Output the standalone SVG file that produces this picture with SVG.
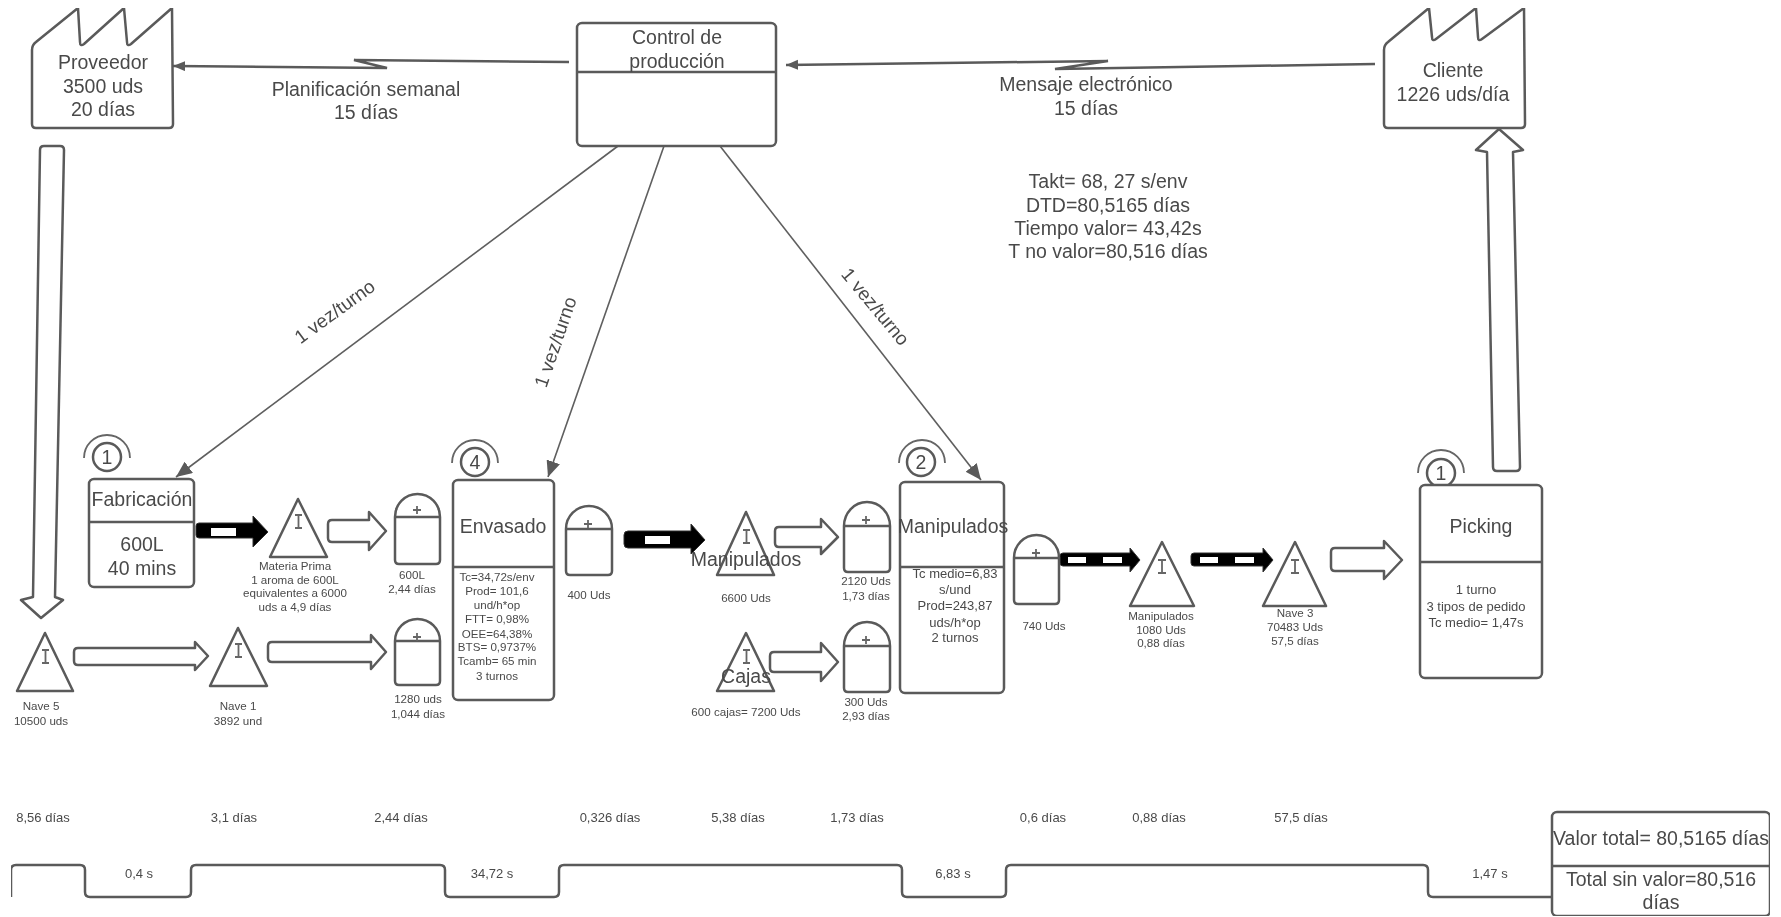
<svg xmlns="http://www.w3.org/2000/svg" width="1781" height="917" viewBox="0 0 1781 917">
<style>
text{font-family:"Liberation Sans",Arial,sans-serif;fill:#4a4a4a;text-anchor:middle}
.l{font-size:19.5px}.m{font-size:13px}.s{font-size:11.6px}.v{font-size:19px}
.o{fill:#fff;stroke:#5a5a5a;stroke-width:2.5;stroke-linejoin:round}
.n{fill:none;stroke:#5a5a5a;stroke-width:2.5}
.t{fill:none;stroke:#5e5e5e;stroke-width:1.6}
.i{fill:none;stroke:#666;stroke-width:1.8}
.p{fill:#000;stroke:#333;stroke-width:1;stroke-linejoin:round}
.w{fill:#fff}
</style>
<defs>
<marker id="ah" markerWidth="14" markerHeight="12" refX="12" refY="5" orient="auto" markerUnits="userSpaceOnUse"><path d="M0,0L12,5L0,10Z" fill="#5a5a5a"/></marker>
<marker id="ad" markerWidth="18" markerHeight="16" refX="16" refY="7" orient="auto" markerUnits="userSpaceOnUse"><path d="M0,0L16,7L0,14Z" fill="#5a5a5a"/></marker>
<filter id="soft" x="0" y="0" width="100%" height="100%"><feGaussianBlur stdDeviation="0.45"/></filter>
</defs>
<rect width="1781" height="917" fill="#fff"/>
<g filter="url(#soft)">
<g id="connectors">
<path class="n" marker-end="url(#ah)" d="M569,62L354,60L387,68L173,66"/>
<path class="n" marker-end="url(#ah)" d="M1375,64L1055,69L1108,61L786,65"/>
<path class="t" marker-end="url(#ad)" d="M618,146L176,477"/>
<path class="t" marker-end="url(#ad)" d="M664,146L548,477"/>
<path class="t" marker-end="url(#ad)" d="M720,146L981,480"/>
<path class="o" d="M40,150Q40,146 44,146L60,146Q64,146 64,150L55,597L63,600L41,618L21,600L33,597Z"/>
<path class="o" d="M1487,152L1476,150L1499,129L1523,150L1513,152L1520,467Q1520,471 1516,471L1497,471Q1493,471 1493,467Z"/>
<path class="o" d="M332,520L369,520L369,512L386,531L369,550L369,542L332,542Q328,542 328,538L328,524Q328,520 332,520Z"/>
<path class="o" d="M78,648L195,648L195,642L208,656L195,670L195,665L78,665Q74,665 74,661L74,652Q74,648 78,648Z"/>
<path class="o" d="M272,642L371,642L371,635L386,652L371,669L371,662L272,662Q268,662 268,658L268,646Q268,642 272,642Z"/>
<path class="o" d="M779,527L821,527L821,519L838,537L821,554L821,547L779,547Q775,547 775,543L775,531Q775,527 779,527Z"/>
<path class="o" d="M774,652L821,652L821,643L838,662L821,681L821,672L774,672Q770,672 770,668L770,656Q770,652 774,652Z"/>
<path class="o" d="M1335,548L1384,548L1384,541L1402,560L1384,579L1384,571L1335,571Q1331,571 1331,567L1331,552Q1331,548 1335,548Z"/>
<path class="p" d="M199,523L253,523L253,516L268,532L253,547L253,538L199,538Q196,538 196,535L196,526Q196,523 199,523Z"/>
<rect class="w" x="211" y="528" width="25" height="8"/>
<path class="p" d="M628,531L691,531L691,524L705,540L691,554L691,548L628,548Q624,548 624,544L624,535Q624,531 628,531Z"/>
<rect class="w" x="645" y="536" width="25" height="8"/>
<path class="p" d="M1063,553L1130,553L1130,548L1140,560L1130,572L1130,566L1063,566Q1060,566 1060,563L1060,556Q1060,553 1063,553Z"/>
<rect class="w" x="1068" y="557" width="18" height="6"/><rect class="w" x="1103" y="557" width="19" height="6"/>
<path class="p" d="M1194,553L1263,553L1263,548L1273,560L1263,572L1263,566L1194,566Q1191,566 1191,563L1191,556Q1191,553 1194,553Z"/>
<rect class="w" x="1200" y="557" width="18" height="6"/><rect class="w" x="1235" y="557" width="19" height="6"/>
<path class="n" d="M11,897L11,870Q11,865 16,865L80,865Q85,865 85,870L85,892Q85,897 90,897L186,897Q191,897 191,892L191,870Q191,865 196,865L440,865Q445,865 445,870L445,892Q445,897 450,897L554,897Q559,897 559,892L559,870Q559,865 564,865L897,865Q902,865 902,870L902,892Q902,897 907,897L1001,897Q1006,897 1006,892L1006,870Q1006,865 1011,865L1423,865Q1428,865 1428,870L1428,892Q1428,897 1433,897L1552,897"/>
</g>
<g id="proveedor"><path class="o" d="M32,50Q32,45 36,42L78,8L80,42Q80,47 84,44L124,8L127,42Q127,47 131,44L172,8L173,124Q173,128 169,128L36,128Q32,128 32,124Z"/>
<text class="l" x="103" y="69">Proveedor</text><text class="l" x="103" y="93">3500 uds</text><text class="l" x="103" y="116">20 días</text></g>
<g id="cliente"><path class="o" d="M1384,50Q1384,45 1388,42L1429,8L1432,37Q1432,42 1436,39L1476,8L1478,37Q1478,42 1482,39L1524,8L1525,124Q1525,128 1521,128L1388,128Q1384,128 1384,124Z"/>
<text class="l" x="1453" y="77">Cliente</text><text class="l" x="1453" y="101">1226 uds/día</text></g>
<g id="control"><rect class="o" x="577" y="23" width="199" height="123" rx="5"/><path class="n" d="M577,72H776"/>
<text class="l" x="677" y="44">Control de</text><text class="l" x="677" y="68">producción</text></g>
<g id="labels">
<text class="l" x="366" y="96">Planificación semanal</text><text class="l" x="366" y="119">15 días</text>
<text class="l" x="1086" y="91">Mensaje electrónico</text><text class="l" x="1086" y="115">15 días</text>
<text class="l" x="1108" y="188">Takt= 68, 27 s/env</text><text class="l" x="1108" y="212">DTD=80,5165 días</text><text class="l" x="1108" y="235">Tiempo valor= 43,42s</text><text class="l" x="1108" y="258">T no valor=80,516 días</text>
<text class="v" transform="translate(335,312) rotate(-36)" y="6">1 vez/turno</text>
<text class="v" transform="translate(556,342) rotate(-71)" y="6">1 vez/turno</text>
<text class="v" transform="translate(875,307) rotate(50)" y="6">1 vez/turno</text>
</g>
<g id="fabricacion"><path class="i" d="M84,458A23,23 0 0 1 130,458"/><circle class="o" cx="107" cy="457" r="14"/><text class="l" x="107" y="464">1</text>
<rect class="o" x="89" y="479" width="105" height="108" rx="5"/><path class="n" d="M89,522H194"/>
<text class="l" x="142" y="506">Fabricación</text><text class="l" x="142" y="551">600L</text><text class="l" x="142" y="575">40 mins</text></g>
<g id="envasado"><path class="i" d="M452,463A23,23 0 0 1 498,463"/><circle class="o" cx="475" cy="462" r="14"/><text class="l" x="475" y="469">4</text>
<rect class="o" x="453" y="480" width="101" height="220" rx="5"/><path class="n" d="M453,567H554"/>
<text class="l" x="503" y="533">Envasado</text>
<text class="s" x="497" y="581">Tc=34,72s/env</text><text class="s" x="497" y="595">Prod= 101,6</text><text class="s" x="497" y="609">und/h*op</text><text class="s" x="497" y="623">FTT= 0,98%</text><text class="s" x="497" y="638">OEE=64,38%</text><text class="s" x="497" y="651">BTS= 0,9737%</text><text class="s" x="497" y="665">Tcamb= 65 min</text><text class="s" x="497" y="680">3 turnos</text></g>
<g id="manipulados-box"><path class="i" d="M899,463A23,23 0 0 1 945,463"/><circle class="o" cx="921" cy="462" r="14"/><text class="l" x="921" y="469">2</text>
<rect class="o" x="900" y="482" width="104" height="211" rx="5"/><path class="n" d="M900,567H1004"/>
<text class="l" x="953" y="533">Manipulados</text>
<text class="m" x="955" y="578">Tc medio=6,83</text><text class="m" x="955" y="594">s/und</text><text class="m" x="955" y="610">Prod=243,87</text><text class="m" x="955" y="627">uds/h*op</text><text class="m" x="955" y="642">2 turnos</text></g>
<g id="picking"><path class="i" d="M1418,473A23,23 0 0 1 1464,473"/><circle class="o" cx="1441" cy="473" r="14"/><text class="l" x="1441" y="480">1</text>
<rect class="o" x="1420" y="485" width="122" height="193" rx="5"/><path class="n" d="M1420,562H1542"/>
<text class="l" x="1481" y="533">Picking</text>
<text class="m" x="1476" y="594">1 turno</text><text class="m" x="1476" y="611">3 tipos de pedido</text><text class="m" x="1476" y="627">Tc medio= 1,47s</text></g>
<g id="inv-materia"><path class="o" d="M298,499L327,557L270,557Z"/><path class="i" d="M295,515H302M298.500,515V528M295,528H302"/>
<text class="s" x="295" y="570">Materia Prima</text><text class="s" x="295" y="584">1 aroma de 600L</text><text class="s" x="295" y="597">equivalentes a 6000</text><text class="s" x="295" y="611">uds a 4,9 días</text></g>
<g id="inv-nave5"><path class="o" d="M45,633L73,691L17,691Z"/><path class="i" d="M42,650H49M45.500,650V663M42,663H49"/>
<text class="s" x="41" y="710">Nave 5</text><text class="s" x="41" y="725">10500 uds</text></g>
<g id="inv-nave1"><path class="o" d="M238,628L267,686L210,686Z"/><path class="i" d="M235,644H242M238.500,644V657M235,657H242"/>
<text class="s" x="238" y="710">Nave 1</text><text class="s" x="238" y="725">3892 und</text></g>
<g id="inv-manipulados"><path class="o" d="M746,512L774,575L717,575Z"/><path class="i" d="M743,530H750M746.500,530V543M743,543H750"/>
<text class="l" x="746" y="566">Manipulados</text><text class="s" x="746" y="602">6600 Uds</text></g>
<g id="inv-cajas"><path class="o" d="M746,633L774,691L717,691Z"/><path class="i" d="M743,650H750M746.500,650V663M743,663H750"/>
<text class="l" x="746" y="683">Cajas</text><text class="s" x="746" y="716">600 cajas= 7200 Uds</text></g>
<g id="inv-manipulados2"><path class="o" d="M1162,542L1194,606L1130,606Z"/><path class="i" d="M1158,560H1166M1162,560V573M1158,573H1166"/>
<text class="s" x="1161" y="620">Manipulados</text><text class="s" x="1161" y="634">1080 Uds</text><text class="s" x="1161" y="647">0,88 días</text></g>
<g id="inv-nave3"><path class="o" d="M1295,542L1326,606L1263,606Z"/><path class="i" d="M1291,560H1299M1295,560V573M1291,573H1299"/>
<text class="s" x="1295" y="617">Nave 3</text><text class="s" x="1295" y="631">70483 Uds</text><text class="s" x="1295" y="645">57,5 días</text></g>
<g id="sm-600"><path class="o" d="M395,517A22.500,23 0 0 1 440,517L440,560Q440,564 436,564L399,564Q395,564 395,560Z"/><path class="n" d="M395,517H440"/><path class="i" d="M413,510H421M417,506V514"/>
<text class="s" x="412" y="579">600L</text><text class="s" x="412" y="593">2,44 días</text></g>
<g id="sm-1280"><path class="o" d="M395,641A22.500,22 0 0 1 440,641L440,681Q440,685 436,685L399,685Q395,685 395,681Z"/><path class="n" d="M395,641H440"/><path class="i" d="M413,637H421M417,633V641"/>
<text class="s" x="418" y="703">1280 uds</text><text class="s" x="418" y="718">1,044 días</text></g>
<g id="sm-400"><path class="o" d="M566,529A23,23 0 0 1 612,529L612,571Q612,575 608,575L570,575Q566,575 566,571Z"/><path class="n" d="M566,529H612"/><path class="i" d="M584,524H592M588,520V528"/>
<text class="s" x="589" y="599">400 Uds</text></g>
<g id="sm-2120"><path class="o" d="M844,526A23,24 0 0 1 890,526L890,568Q890,572 886,572L848,572Q844,572 844,568Z"/><path class="n" d="M844,526H890"/><path class="i" d="M862,520H870M866,516V524"/>
<text class="s" x="866" y="585">2120 Uds</text><text class="s" x="866" y="600">1,73 días</text></g>
<g id="sm-300"><path class="o" d="M844,646A23,24 0 0 1 890,646L890,688Q890,692 886,692L848,692Q844,692 844,688Z"/><path class="n" d="M844,646H890"/><path class="i" d="M862,640H870M866,636V644"/>
<text class="s" x="866" y="706">300 Uds</text><text class="s" x="866" y="720">2,93 días</text></g>
<g id="sm-740"><path class="o" d="M1014,558A22.500,23 0 0 1 1059,558L1059,600Q1059,604 1055,604L1018,604Q1014,604 1014,600Z"/><path class="n" d="M1014,558H1059"/><path class="i" d="M1032,553H1040M1036,549V557"/>
<text class="s" x="1044" y="630">740 Uds</text></g>
<g id="timeline-text">
<text class="m" x="43" y="822">8,56 días</text><text class="m" x="234" y="822">3,1 días</text><text class="m" x="401" y="822">2,44 días</text><text class="m" x="610" y="822">0,326 días</text><text class="m" x="738" y="822">5,38 días</text><text class="m" x="857" y="822">1,73 días</text><text class="m" x="1043" y="822">0,6 días</text><text class="m" x="1159" y="822">0,88 días</text><text class="m" x="1301" y="822">57,5 días</text>
<text class="m" x="139" y="878">0,4 s</text><text class="m" x="492" y="878">34,72 s</text><text class="m" x="953" y="878">6,83 s</text><text class="m" x="1490" y="878">1,47 s</text>
</g>
<g id="totales"><rect class="o" x="1552" y="812" width="218" height="104" rx="5"/><path class="n" d="M1552,866H1770"/>
<text class="l" x="1661" y="845">Valor total= 80,5165 días</text><text class="l" x="1661" y="886">Total sin valor=80,516</text><text class="l" x="1661" y="909">días</text></g>
</g>
</svg>
